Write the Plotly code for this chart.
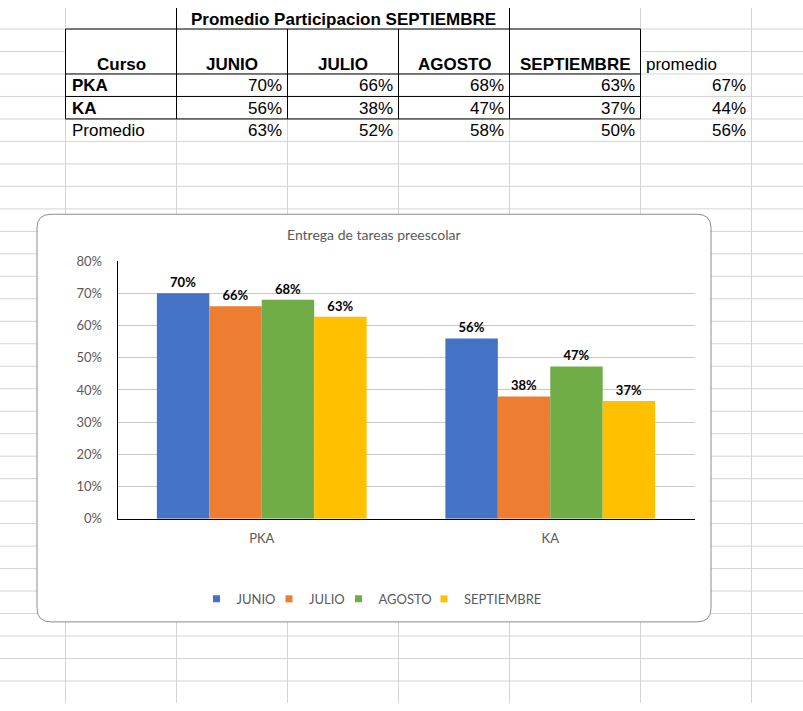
import plotly.graph_objects as go

W, H = 803, 711

# chart data
courses = ["PKA", "KA"]
months = ["JUNIO", "JULIO", "AGOSTO", "SEPTIEMBRE"]
pka = [0.70, 0.66, 0.68, 0.627]
ka = [0.56, 0.38, 0.473, 0.366]
colors = ["#4472C4", "#ED7D31", "#70AD47", "#FFC000"]

sheet_title = "Promedio Participacion SEPTIEMBRE"
chart_title = "Entrega de tareas preescolar"

# sheet grid, in pixels
col_x = [65.5, 176.5, 287.5, 398.5, 509.5, 640.5, 751.5]
row0, row_h = 21.5, 23
# left edge of each legend entry, in pixels
legend_x = [196.5, 269, 338.5, 424]

SHEET_FONT = "Liberation Sans, Arial, sans-serif"
CHART_FONT = "Lato, Calibri, sans-serif"
GRAY = "#595959"


def px(x):
    return x / W


def py(y):
    return 1 - y / H


def seg(x0, y0, x1, y1, color, width=1):
    return dict(type="line", xref="paper", yref="paper", layer="below",
                x0=px(x0), y0=py(y0), x1=px(x1), y1=py(y1),
                line=dict(color=color, width=width))


def box(x0, y0, x1, y1, fill):
    return dict(type="rect", xref="paper", yref="paper", layer="below",
                x0=px(x0), y0=py(y0), x1=px(x1), y1=py(y1),
                fillcolor=fill, line=dict(width=0))


shapes = []
# light gray cell lines
y = row0
while y < H:
    shapes.append(seg(0, y, W, y, "#d4d4d4"))
    y += row_h
for x in col_x:
    shapes.append(seg(x, 0, x, H, "#d4d4d4"))

# merged cells (title and header rows)
shapes.append(box(col_x[1] + 0.5, 0, col_x[4] - 0.5, row0 - 0.5, "white"))
shapes.append(box(col_x[0] + 0.5, row0 + 0.5, col_x[5] - 0.5, row0 + 2 * row_h - 0.5, "white"))

# black table borders
tbl_bottom = row0 + 4 * row_h
shapes.append(seg(col_x[1], 0, col_x[1], row0, "black"))
shapes.append(seg(col_x[4], 0, col_x[4], row0, "black"))
for yy in [row0, row0 + 2 * row_h, row0 + 3 * row_h, tbl_bottom]:
    shapes.append(seg(col_x[0], yy, col_x[5], yy, "black"))
for x in col_x[:6]:
    shapes.append(seg(x, row0, x, tbl_bottom, "black"))

# chart box with rounded corners
cx0, cy0, cx1, cy1, r = 37, 211, 711, 628, 14
rx, ry = r / W, r / H
X0, X1, Y0, Y1 = px(cx0), px(cx1), py(cy0), py(cy1)
path = (f"M{X0+rx},{Y0} H{X1-rx} Q{X1},{Y0} {X1},{Y0-ry} V{Y1+ry} "
        f"Q{X1},{Y1} {X1-rx},{Y1} H{X0+rx} Q{X0},{Y1} {X0},{Y1+ry} "
        f"V{Y0-ry} Q{X0},{Y0} {X0+rx},{Y0} Z")
shapes.append(dict(type="path", xref="paper", yref="paper", layer="below",
                   path=path, fillcolor="white", line=dict(color="#8c8c8c", width=1)))

# sheet texts
annotations = []


def cell_text(text, x, y, anchor, bold=False):
    annotations.append(dict(
        text=f"<b>{text}</b>" if bold else text, x=px(x), y=py(y),
        xref="paper", yref="paper", xanchor=anchor, yanchor="middle",
        showarrow=False, font=dict(family=SHEET_FONT, size=17, color="black")))


cell_text(sheet_title, (col_x[1] + col_x[4]) / 2, 11.5, "center", bold=True)
cell_text("Curso", (col_x[0] + col_x[1]) / 2, 58, "center", bold=True)
for i, m in enumerate(months):
    cell_text(m, (col_x[i + 1] + col_x[i + 2]) / 2, 58, "center", bold=True)
cell_text("promedio", col_x[5] + 3, 58, "left")

rows = [("PKA", pka, True), ("KA", ka, True)]
month_avg = [(a + b) / 2 for a, b in zip(pka, ka)]
rows.append(("Promedio", month_avg, False))
for k, (name, vals, bold) in enumerate(rows):
    yc = row0 + (2 + k) * row_h + 12
    cell_text(name, col_x[0] + 4, yc, "left", bold=bold)
    for i, v in enumerate(vals):
        cell_text(f"{v:.0%}", col_x[i + 2] - 3.5, yc, "right")
    cell_text(f"{sum(vals) / len(vals):.0%}", col_x[6] - 4, yc, "right")

annotations.append(dict(
    text=chart_title, x=px(374), y=py(232), xref="paper", yref="paper",
    xanchor="center", yanchor="middle", showarrow=False,
    font=dict(family=CHART_FONT, size=14, color=GRAY)))

fig = go.Figure()
for i, m in enumerate(months):
    fig.add_trace(go.Bar(
        x=courses, y=[pka[i], ka[i]], name=m, marker_color=colors[i],
        marker_line_width=0, texttemplate="%{y:.0%}",
        textposition="outside",
        textfont=dict(family=CHART_FONT, size=13, color="black", weight="bold"),
        cliponaxis=False, showlegend=False))

# small square swatches, one legend per month so the entries sit close together
legends = {}
for i, m in enumerate(months):
    key = "legend" if i == 0 else f"legend{i + 1}"
    fig.add_trace(go.Scatter(
        x=[None], y=[None], mode="markers", name=m, legend=key,
        marker=dict(symbol="square", size=7, color=colors[i])))
    legends[key] = dict(
        orientation="h", x=px(legend_x[i]), xanchor="left", y=py(604.5),
        yanchor="middle", font=dict(family=CHART_FONT, size=13, color=GRAY),
        itemwidth=30, bgcolor="rgba(0,0,0,0)", borderwidth=0)

fig.update_layout(
    width=W, height=H, margin=dict(l=0, r=0, t=0, b=0),
    paper_bgcolor="white", plot_bgcolor="rgba(0,0,0,0)",
    barmode="group", bargap=0.273, bargroupgap=0,
    shapes=shapes, annotations=annotations,
    font=dict(family=CHART_FONT, color=GRAY),
    xaxis=dict(domain=[px(117.5), px(694.5)], showline=True, linecolor="black",
               linewidth=1, ticks="", tickfont=dict(size=13, color=GRAY),
               ticklabelstandoff=8, fixedrange=True),
    yaxis=dict(domain=[py(522.5), py(259)], range=[0, 0.8], dtick=0.1,
               tickformat=".0%", gridcolor="#c8c8c8", gridwidth=1,
               showline=True, linecolor="black", linewidth=1, zeroline=False,
               ticks="", tickfont=dict(size=13, color=GRAY),
               ticklabelstandoff=12, fixedrange=True),
    **legends,
)

# drop the default page margin so the figure sits at the window corner
fig.write_html("out.html", config={"displayModeBar": False},
               post_script="document.body.style.margin='0';"
                           "document.body.style.overflow='hidden';")
